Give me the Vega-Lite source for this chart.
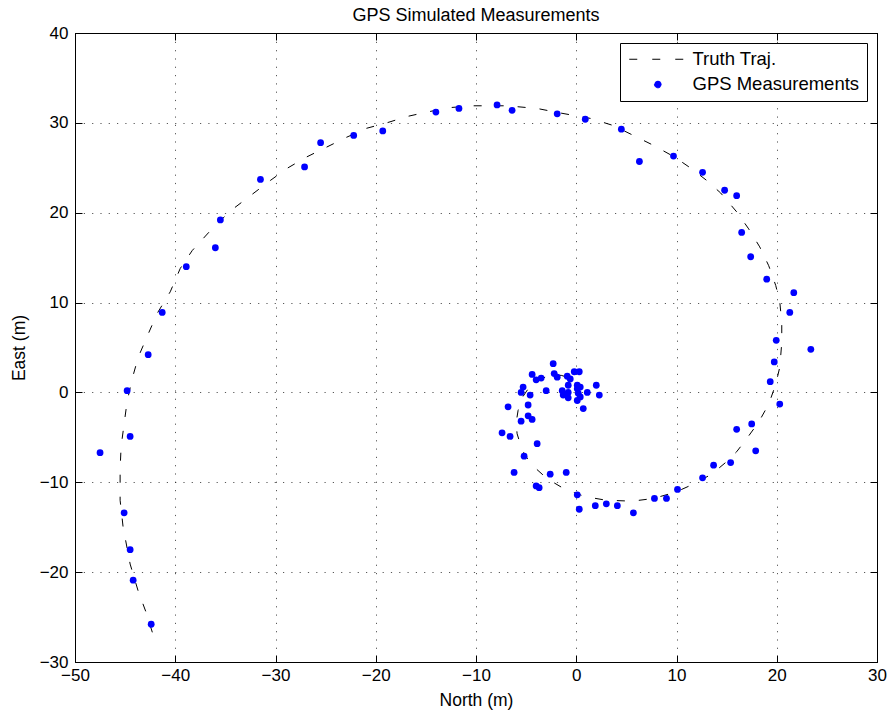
{
  "$schema": "https://vega.github.io/schema/vega-lite/v6.json",
  "autosize": {"type": "none"},
  "padding": {"left": 75, "top": 33, "right": 15, "bottom": 55},
  "width": 802,
  "height": 629,
  "background": "white",
  "title": {
    "text": "GPS Simulated Measurements",
    "font": "Liberation Sans",
    "fontSize": 18,
    "fontWeight": "normal",
    "color": "black",
    "anchor": "middle",
    "frame": "group",
    "baseline": "alphabetic",
    "offset": -15
  },
  "config": {
    "view": {"stroke": "black", "strokeWidth": 1},
    "axis": {
      "labelFont": "Liberation Sans",
      "titleFont": "Liberation Sans",
      "labelFontSize": 17,
      "titleFontSize": 17.5,
      "titleFontWeight": "normal",
      "labelColor": "black",
      "titleColor": "black",
      "domainColor": "black",
      "tickColor": "black",
      "tickSize": -7,
      "labelFlush": false,
      "labelOverlap": false,
      "gridColor": "#222222",
      "gridOpacity": 0.75,
      "gridDash": [1.2, 7.1],
      "gridWidth": 1
    }
  },
  "datasets": {
    "truth": [
      {"t": 0, "north": 0.3, "east": 0.2},
      {"t": 1, "north": 0.4, "east": 0.8},
      {"t": 2, "north": 0.0, "east": 1.3},
      {"t": 3, "north": -0.6, "east": 1.6},
      {"t": 4, "north": -1.5, "east": 1.9},
      {"t": 5, "north": -2.7, "east": 1.9},
      {"t": 6, "north": -3.9, "east": 1.3},
      {"t": 7, "north": -4.8, "east": 0.4},
      {"t": 8, "north": -5.4, "east": -0.6},
      {"t": 9, "north": -5.8, "east": -2.0},
      {"t": 10, "north": -6.0, "east": -3.4},
      {"t": 11, "north": -5.9, "east": -4.6},
      {"t": 12, "north": -5.4, "east": -6.4},
      {"t": 13, "north": -4.8, "east": -7.5},
      {"t": 14, "north": -4.0, "east": -8.5},
      {"t": 15, "north": -2.9, "east": -9.6},
      {"t": 16, "north": -1.1, "east": -10.8},
      {"t": 17, "north": 0.9, "east": -11.6},
      {"t": 18, "north": 3.0, "east": -12.0},
      {"t": 19, "north": 5.6, "east": -12.1},
      {"t": 20, "north": 7.7, "east": -11.8},
      {"t": 21, "north": 9.9, "east": -11.1},
      {"t": 22, "north": 11.7, "east": -10.2},
      {"t": 23, "north": 13.5, "east": -9.1},
      {"t": 24, "north": 14.9, "east": -7.8},
      {"t": 25, "north": 16.0, "east": -6.6},
      {"t": 26, "north": 16.9, "east": -5.3},
      {"t": 27, "north": 18.2, "east": -3.3},
      {"t": 28, "north": 19.2, "east": -1.3},
      {"t": 29, "north": 19.9, "east": 0.9},
      {"t": 30, "north": 20.3, "east": 2.8},
      {"t": 31, "north": 20.5, "east": 5.5},
      {"t": 32, "north": 20.5, "east": 7.8},
      {"t": 33, "north": 20.3, "east": 10.1},
      {"t": 34, "north": 19.9, "east": 11.9},
      {"t": 35, "north": 19.2, "east": 14.1},
      {"t": 36, "north": 18.3, "east": 16.2},
      {"t": 37, "north": 17.2, "east": 18.2},
      {"t": 38, "north": 16.0, "east": 20.1},
      {"t": 39, "north": 14.4, "east": 22.2},
      {"t": 40, "north": 13.0, "east": 23.6},
      {"t": 41, "north": 11.5, "east": 24.9},
      {"t": 42, "north": 9.8, "east": 26.2},
      {"t": 43, "north": 7.7, "east": 27.5},
      {"t": 44, "north": 5.7, "east": 28.6},
      {"t": 45, "north": 3.7, "east": 29.7},
      {"t": 46, "north": 1.4, "east": 30.5},
      {"t": 47, "north": -1.6, "east": 31.1},
      {"t": 48, "north": -3.9, "east": 31.6},
      {"t": 49, "north": -6.9, "east": 31.9},
      {"t": 50, "north": -10.2, "east": 31.9},
      {"t": 51, "north": -12.6, "east": 31.7},
      {"t": 52, "north": -14.9, "east": 31.2},
      {"t": 53, "north": -16.9, "east": 30.7},
      {"t": 54, "north": -18.9, "east": 30.0},
      {"t": 55, "north": -20.9, "east": 29.4},
      {"t": 56, "north": -22.9, "east": 28.4},
      {"t": 57, "north": -24.9, "east": 27.3},
      {"t": 58, "north": -26.9, "east": 26.2},
      {"t": 59, "north": -28.9, "east": 24.9},
      {"t": 60, "north": -30.5, "east": 23.6},
      {"t": 61, "north": -32.5, "east": 21.9},
      {"t": 62, "north": -34.5, "east": 20.2},
      {"t": 63, "north": -36.5, "east": 18.0},
      {"t": 64, "north": -38.3, "east": 15.8},
      {"t": 65, "north": -39.5, "east": 13.8},
      {"t": 66, "north": -40.5, "east": 11.2},
      {"t": 67, "north": -41.8, "east": 8.8},
      {"t": 68, "north": -42.7, "east": 6.5},
      {"t": 69, "north": -43.7, "east": 3.9},
      {"t": 70, "north": -44.3, "east": 1.5},
      {"t": 71, "north": -44.8, "east": -1.0},
      {"t": 72, "north": -45.1, "east": -3.5},
      {"t": 73, "north": -45.4, "east": -6.0},
      {"t": 74, "north": -45.5, "east": -8.5},
      {"t": 75, "north": -45.5, "east": -12.0},
      {"t": 76, "north": -45.2, "east": -15.0},
      {"t": 77, "north": -44.5, "east": -19.1},
      {"t": 78, "north": -43.7, "east": -22.1},
      {"t": 79, "north": -42.9, "east": -24.5},
      {"t": 80, "north": -42.2, "east": -27.0}
    ],
    "gps": [
      {"north": -47.5, "east": -6.7},
      {"north": -45.1, "east": -13.4},
      {"north": -44.5, "east": -17.5},
      {"north": -44.2, "east": -20.9},
      {"north": -42.4, "east": -25.8},
      {"north": -44.5, "east": -4.9},
      {"north": -44.8, "east": 0.2},
      {"north": -42.7, "east": 4.2},
      {"north": -41.3, "east": 8.9},
      {"north": -38.9, "east": 14.0},
      {"north": -36.0, "east": 16.1},
      {"north": -35.5, "east": 19.2},
      {"north": -31.5, "east": 23.7},
      {"north": -27.1, "east": 25.1},
      {"north": -25.5, "east": 27.8},
      {"north": -22.2, "east": 28.6},
      {"north": -19.3, "east": 29.1},
      {"north": -14.0, "east": 31.2},
      {"north": -11.7, "east": 31.6},
      {"north": -7.9, "east": 32.0},
      {"north": -6.4, "east": 31.4},
      {"north": -1.9, "east": 31.0},
      {"north": 0.9, "east": 30.4},
      {"north": 4.5, "east": 29.3},
      {"north": 6.3, "east": 25.7},
      {"north": 9.7, "east": 26.3},
      {"north": 12.6, "east": 24.5},
      {"north": 14.8, "east": 22.5},
      {"north": 16.0, "east": 21.9},
      {"north": 16.5, "east": 17.8},
      {"north": 17.4, "east": 15.1},
      {"north": 19.0, "east": 12.6},
      {"north": 21.7, "east": 11.1},
      {"north": 21.3, "east": 8.9},
      {"north": 19.95, "east": 5.8},
      {"north": 23.4, "east": 4.8},
      {"north": 19.75, "east": 3.4},
      {"north": 19.35, "east": 1.2},
      {"north": 20.3, "east": -1.3},
      {"north": 17.5, "east": -3.5},
      {"north": 16.0, "east": -4.1},
      {"north": 17.9, "east": -6.5},
      {"north": 15.4, "east": -7.8},
      {"north": 13.7, "east": -8.1},
      {"north": 12.6, "east": -9.5},
      {"north": 10.1, "east": -10.8},
      {"north": 9.0, "east": -11.8},
      {"north": 7.8, "east": -11.8},
      {"north": 5.7, "east": -13.4},
      {"north": 4.1, "east": -12.6},
      {"north": 3.0, "east": -12.4},
      {"north": 1.9, "east": -12.6},
      {"north": 0.3, "east": -13.0},
      {"north": 0.1, "east": -11.4},
      {"north": -1.0, "east": -8.9},
      {"north": -2.6, "east": -9.1},
      {"north": -3.7, "east": -10.6},
      {"north": -4.0, "east": -10.4},
      {"north": -6.2, "east": -8.9},
      {"north": -5.2, "east": -7.1},
      {"north": -3.9, "east": -5.7},
      {"north": -7.4, "east": -4.5},
      {"north": -6.6, "east": -4.9},
      {"north": -5.5, "east": -3.2},
      {"north": -4.4, "east": -3.0},
      {"north": -4.8, "east": -2.6},
      {"north": -4.8, "east": -1.4},
      {"north": -6.8, "east": -1.6},
      {"north": -2.3, "east": 3.2},
      {"north": -4.4, "east": 2.0},
      {"north": -4.0, "east": 1.4},
      {"north": -3.5, "east": 1.6},
      {"north": -2.2, "east": 2.1},
      {"north": -1.9, "east": 1.7},
      {"north": -0.9, "east": 1.8},
      {"north": -0.2, "east": 2.3},
      {"north": 0.3, "east": 2.3},
      {"north": -0.6, "east": 1.5},
      {"north": -0.8, "east": 0.8},
      {"north": 0.1, "east": 0.8},
      {"north": 0.4, "east": 0.6},
      {"north": 2.0, "east": 0.8},
      {"north": -5.3, "east": 0.6},
      {"north": -5.5, "east": 0.0},
      {"north": -4.6, "east": -0.3},
      {"north": -3.0, "east": 0.2},
      {"north": -1.4, "east": 0.2},
      {"north": -1.3, "east": -0.3},
      {"north": -0.8, "east": 0.0},
      {"north": 0.1, "east": 0.4},
      {"north": 0.2, "east": -0.1},
      {"north": 1.1, "east": 0.0},
      {"north": 2.3, "east": -0.3},
      {"north": -0.8, "east": -0.6},
      {"north": 0.4, "east": -0.5},
      {"north": 0.1, "east": -0.9},
      {"north": 0.7, "east": -1.8}
    ]
  },
  "layer": [
    {
      "data": {"name": "truth"},
      "mark": {"type": "line", "strokeWidth": 1, "strokeDash": [8, 14], "interpolate": "linear"},
      "encoding": {
        "x": {
          "field": "north",
          "type": "quantitative",
          "scale": {"domain": [-50, 30], "nice": false, "zero": false},
          "axis": {
            "orient": "bottom",
            "title": "North (m)",
            "values": [-50, -40, -30, -20, -10, 0, 10, 20, 30],
            "grid": true,
            "labelPadding": 12,
            "titlePadding": 8
          }
        },
        "y": {
          "field": "east",
          "type": "quantitative",
          "scale": {"domain": [-30, 40], "nice": false, "zero": false},
          "axis": {
            "orient": "left",
            "title": "East (m)",
            "values": [-30, -20, -10, 0, 10, 20, 30, 40],
            "grid": true,
            "labelPadding": 14,
            "titlePadding": 11
          }
        },
        "order": {"field": "t", "type": "quantitative"},
        "color": {
          "datum": "Truth Traj.",
          "scale": {"domain": ["Truth Traj.", "GPS Measurements"], "range": ["black", "blue"]},
          "legend": {
            "title": null,
            "orient": "top-right",
            "offset": 10,
            "padding": 7,
            "strokeColor": "black",
            "fillColor": "white",
            "cornerRadius": 0,
            "labelFont": "Liberation Sans",
            "labelFontSize": 18.5,
            "labelColor": "black",
            "labelLimit": 400,
            "labelOffset": 47,
            "symbolSize": 100,
            "rowPadding": 6,
            "encode": {
              "symbols": {
                "update": {
                  "shape": {"signal": "datum.value === 'Truth Traj.' ? 'M-1.4,0H9.4' : 'M3.62,0A0.72,0.72,0,1,0,5.06,0A0.72,0.72,0,1,0,3.62,0Z'"},
                  "fill": {"signal": "datum.value === 'Truth Traj.' ? 'transparent' : 'blue'"},
                  "stroke": {"signal": "datum.value === 'Truth Traj.' ? 'black' : 'transparent'"},
                  "strokeDash": {"value": [8, 15]},
                  "strokeWidth": {"value": 1},
                  "opacity": {"value": 1}
                }
              }
            }
          }
        }
      }
    },
    {
      "data": {"name": "gps"},
      "mark": {"type": "point", "filled": true, "size": 46, "opacity": 1, "shape": "circle"},
      "encoding": {
        "x": {
          "field": "north",
          "type": "quantitative",
          "axis": {
            "orient": "top",
            "title": null,
            "labels": false,
            "grid": false,
            "values": [-50, -40, -30, -20, -10, 0, 10, 20, 30]
          }
        },
        "y": {
          "field": "east",
          "type": "quantitative",
          "axis": {
            "orient": "right",
            "title": null,
            "labels": false,
            "grid": false,
            "values": [-30, -20, -10, 0, 10, 20, 30, 40]
          }
        },
        "color": {"datum": "GPS Measurements"}
      }
    }
  ],
  "resolve": {"axis": {"x": "independent", "y": "independent"}}
}
